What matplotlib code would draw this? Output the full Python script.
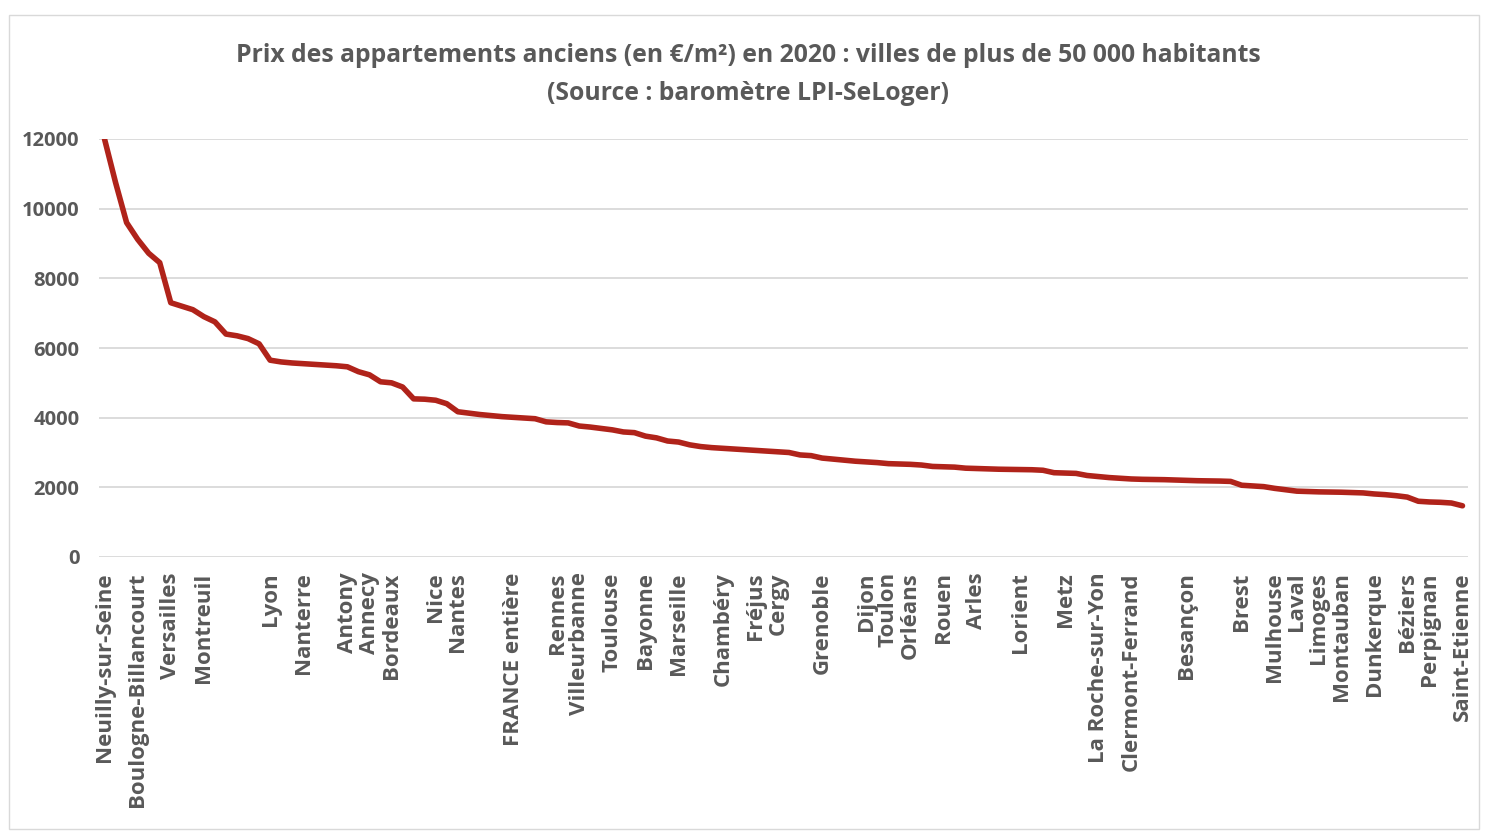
import matplotlib.pyplot as plt
from matplotlib.patches import Rectangle

# --------------------------------------------
# DATA
# --------------------------------------------
prix = [
    12000, 10750, 9600, 9120, 8720, 8450, 7300, 7200, 7100, 6900,
    6750, 6400, 6350, 6270, 6120, 5650, 5600, 5570, 5550, 5530,
    5510, 5490, 5460, 5320, 5230, 5030, 5000, 4880, 4540, 4530,
    4500, 4400, 4170, 4130, 4090, 4060, 4030, 4010, 3990, 3970,
    3880, 3860, 3850, 3760, 3730, 3690, 3650, 3590, 3570, 3470,
    3420, 3330, 3300, 3220, 3170, 3140, 3120, 3100, 3080, 3060,
    3040, 3020, 3000, 2930, 2910, 2840, 2810, 2780, 2750, 2730,
    2710, 2680, 2670, 2660, 2640, 2600, 2590, 2580, 2550, 2540,
    2530, 2520, 2515, 2510, 2505, 2490, 2420, 2410, 2400, 2340,
    2310, 2280, 2260, 2240, 2230, 2225, 2220, 2210, 2200, 2190,
    2185, 2180, 2170, 2060, 2040, 2020, 1970, 1930, 1890, 1880,
    1870, 1865, 1860, 1850, 1840, 1810, 1790, 1760, 1720, 1600,
    1580, 1570, 1550, 1470,
]

# villes dont le nom apparait sur l'axe (les autres sont masquees)
villes_idx = [0, 3, 6, 9, 15, 18, 22, 24, 26, 30, 32, 37, 41, 43, 46, 49, 52,
              56, 59, 61, 65, 69, 71, 73, 76, 79, 83, 87, 90, 93, 98, 103,
              106, 108, 110, 112, 115, 118, 120, 123]
villes_noms = ["Neuilly-sur-Seine", "Boulogne-Billancourt", "Versailles",
               "Montreuil", "Lyon", "Nanterre", "Antony", "Annecy", "Bordeaux",
               "Nice", "Nantes", "FRANCE entière", "Rennes", "Villeurbanne",
               "Toulouse", "Bayonne", "Marseille", "Chambéry", "Fréjus", "Cergy",
               "Grenoble", "Dijon", "Toulon", "Orléans", "Rouen", "Arles",
               "Lorient", "Metz", "La Roche-sur-Yon", "Clermont-Ferrand",
               "Besançon", "Brest", "Mulhouse", "Laval", "Limoges", "Montauban",
               "Dunkerque", "Béziers", "Perpignan", "Saint-Etienne"]

y_ticks = [0, 2000, 4000, 6000, 8000, 10000, 12000]

# --------------------------------------------
# PLOT
# --------------------------------------------
gris = "#595959"
plt.rcParams['font.family'] = ['Open Sans', 'DejaVu Sans']

fig = plt.figure(figsize=(14.88, 8.34), dpi=100)
fig.patches.append(Rectangle((0.006, 0.006), 0.988, 0.976, transform=fig.transFigure,
                             fill=False, edgecolor="#d9d9d9", linewidth=1))

ax = fig.add_axes([99 / 1488, 1 - 557 / 834, 1369 / 1488, 418 / 834])

x = list(range(len(prix)))
ax.plot(x, prix, color="#b0231a", linewidth=4.0, solid_capstyle='round',
        solid_joinstyle='round', zorder=3)

ax.set_xlim(-0.5, len(prix) - 0.5)
ax.set_ylim(0, 12000)
ax.set_yticks(y_ticks)
ax.set_yticklabels([str(v) for v in y_ticks], fontsize=14.5, fontweight='bold', color=gris)
ax.set_xticks(villes_idx)
ax.set_xticklabels(villes_noms, rotation=90, fontsize=16, fontweight='bold',
                   color=gris, ha='center', va='top')
ax.tick_params(axis='both', length=0)
ax.tick_params(axis='x', pad=11)
ax.tick_params(axis='y', pad=14)
ax.grid(axis='y', color="#d9d9d9", linewidth=1.3)
ax.set_axisbelow(True)
for s in ax.spines.values():
    s.set_visible(False)

fig.text(0.503, 1 - 56 / 834, "Prix des appartements anciens (en €/m²) en 2020 : villes de plus de 50 000 habitants",
         ha='center', va='center', fontsize=17.8, fontweight='bold', color=gris)
fig.text(0.503, 1 - 93 / 834, "(Source : baromètre LPI-SeLoger)",
         ha='center', va='center', fontsize=17.8, fontweight='bold', color=gris)

plt.savefig("out.png", dpi=100)
plt.close()
